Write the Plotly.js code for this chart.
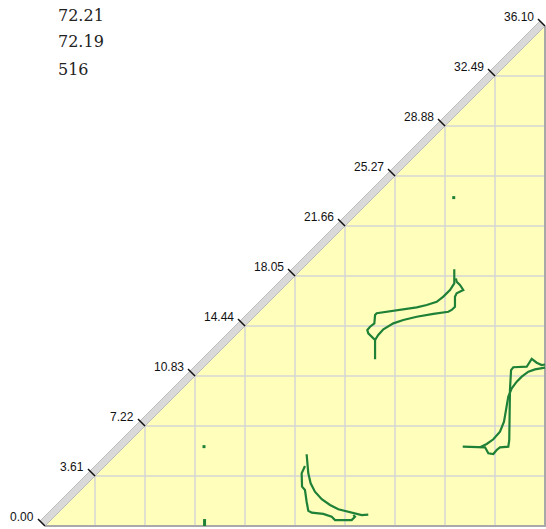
<!DOCTYPE html>
<html>
<head>
<meta charset="utf-8">
<script src="https://cdn.plot.ly/plotly-3.0.1.min.js"></script>
<style>html,body{margin:0;padding:0;background:#fff;}#chart{width:546px;height:529px;}</style>
</head>
<body>
<div id="chart"></div>
<script>
// ---- data ----
const tickValues = [0, 3.61, 7.22, 10.83, 14.44, 18.05, 21.66, 25.27, 28.88, 32.49, 36.10];
const tickLabels = ["0.00", "3.61", "7.22", "10.83", "14.44", "18.05", "21.66", "25.27", "28.88", "32.49", "36.10"];
const headerLines = ["72.21", "72.19", "516"];

// contour 1 (bottom middle)
const c1aX = [18.89, 18.94, 19.01, 19.18, 19.49, 19.98, 20.58, 21.18, 21.90, 22.50, 22.87, 23.34];
const c1aY = [5.18, 4.53, 3.80, 3.08, 2.48, 1.93, 1.52, 1.21, 1.03, 0.92, 0.79, 0.82];
const c1bX = [18.77, 18.61, 18.53, 18.56, 18.77, 18.89, 19.01, 19.26, 20.09, 20.70, 20.94, 22.14, 22.38, 22.26];
const c1bY = [4.33, 4.04, 3.80, 2.84, 2.60, 1.75, 1.10, 0.96, 0.87, 0.67, 0.43, 0.43, 0.67, 0.79];

// contour 2 (middle)
const c2aX = [29.55, 29.55, 29.24, 28.76, 28.28, 27.56, 26.84, 25.63, 24.43, 23.95, 23.83, 23.78, 23.47, 23.27, 23.34, 23.70, 23.83, 23.83];
const c2aY = [18.53, 17.52, 17.04, 16.56, 16.19, 15.96, 15.79, 15.60, 15.40, 15.36, 15.23, 14.63, 14.39, 14.15, 13.91, 13.55, 13.43, 12.04];
const c2bX = [23.83, 24.06, 24.43, 25.15, 25.87, 26.84, 28.04, 29.12, 29.36, 29.60, 29.60, 29.72, 30.20, 29.96, 29.72, 29.67];
const c2bY = [13.43, 13.79, 14.20, 14.63, 14.87, 15.11, 15.31, 15.47, 15.60, 15.83, 16.56, 16.80, 17.04, 17.40, 17.64, 17.88];

// contour 3 (right)
const c3aX = [30.16, 31.53, 31.77, 32.01, 32.37, 32.61, 32.85, 33.45, 33.52, 33.57, 33.65, 33.81, 34.78, 35.14, 35.50, 35.86, 36.10];
const c3aY = [5.73, 5.73, 5.68, 5.25, 5.20, 5.49, 5.68, 5.73, 6.21, 9.82, 11.26, 11.46, 11.50, 12.06, 11.79, 11.62, 11.66];
const c3bX = [31.41, 31.89, 32.37, 32.85, 33.14, 33.33, 33.45, 33.70, 34.06, 34.42, 34.90, 35.38, 35.98, 36.10];
const c3bY = [5.68, 5.92, 6.26, 6.81, 7.53, 8.61, 9.34, 9.94, 10.42, 10.78, 11.14, 11.31, 11.43, 11.44];

// isolated points
const dotX = [11.48, 29.51];
const dotY = [5.73, 23.71];
const barX = [11.52, 11.52];
const barY = [0.0, 0.5];

// ---- geometry ----
const W = 546, H = 529;
const plotLeft = 45, plotBottom = 3, plotPx = 500;
const maxV = tickValues[tickValues.length - 1];
const scale = plotPx / maxV;          // px per unit (same on both axes)
const px = p => p / scale;            // pixels -> data units
const bandOff = px(5), tickOff = px(7);

const green = '#1f8037';
const traces = [];

// yellow triangle
traces.push({x: [0, maxV, maxV, 0], y: [0, 0, maxV, 0], mode: 'lines', fill: 'toself',
  fillcolor: '#ffffbb', line: {width: 0}, hoverinfo: 'skip'});

// grid lines inside triangle
const gx = [], gy = [];
tickValues.slice(1, -1).forEach(v => {
  gx.push(v, v, null); gy.push(0, v, null);
  gx.push(v, maxV, null); gy.push(v, v, null);
});
traces.push({x: gx, y: gy, mode: 'lines', line: {color: '#d6d6d6', width: 1.5}, hoverinfo: 'skip'});

// bottom and right borders
traces.push({x: [0, maxV, maxV], y: [0, 0, maxV], mode: 'lines',
  line: {color: '#a9a9a9', width: 2}, hoverinfo: 'skip'});

// diagonal band
traces.push({x: [0, maxV, maxV - bandOff, -bandOff, 0], y: [0, maxV, maxV + bandOff, bandOff, 0],
  mode: 'lines', fill: 'toself', fillcolor: '#d9d9d9', line: {color: '#bdbdbd', width: 1}, hoverinfo: 'skip'});

// diagonal ticks
const tx = [], ty = [];
tickValues.forEach(v => { tx.push(v, v - tickOff, null); ty.push(v, v + tickOff, null); });
traces.push({x: tx, y: ty, mode: 'lines', line: {color: '#111', width: 1.5}, hoverinfo: 'skip'});

// contours
[[c1aX, c1aY], [c1bX, c1bY], [c2aX, c2aY], [c2bX, c2bY], [c3aX, c3aY], [c3bX, c3bY]].forEach(([x, y]) => {
  traces.push({x, y, mode: 'lines', line: {color: green, width: 2.2}, hoverinfo: 'skip'});
});
traces.push({x: dotX, y: dotY, mode: 'markers', marker: {symbol: 'square', size: 3, color: green}, hoverinfo: 'skip'});
traces.push({x: barX, y: barY, mode: 'lines', line: {color: green, width: 3}, hoverinfo: 'skip'});

const annotations = tickValues.map((v, i) => ({
  x: v, y: v, xref: 'x', yref: 'y', text: tickLabels[i], showarrow: false,
  xanchor: 'right', yanchor: 'middle', xshift: -9, yshift: 9,
  font: {family: 'Liberation Sans, Arial, sans-serif', size: 12, color: '#111'}
}));
headerLines.forEach((t, i) => {
  annotations.push({x: 56 / W, y: 1 - (15 + 27 * i) / H, xref: 'paper', yref: 'paper', text: t,
    showarrow: false, xanchor: 'left', yanchor: 'middle',
    font: {family: 'DejaVu Serif, serif', size: 16, color: '#222'}});
});

const layout = {
  width: W, height: H, margin: {l: 0, r: 0, t: 0, b: 0},
  paper_bgcolor: '#fff', plot_bgcolor: '#fff', showlegend: false,
  xaxis: {range: [-plotLeft / scale, (W - plotLeft) / scale], visible: false, fixedrange: true},
  yaxis: {range: [-plotBottom / scale, (H - plotBottom) / scale], visible: false, fixedrange: true},
  annotations
};
Plotly.newPlot('chart', traces, layout, {displayModeBar: false, staticPlot: true});
</script>
</body>
</html>
